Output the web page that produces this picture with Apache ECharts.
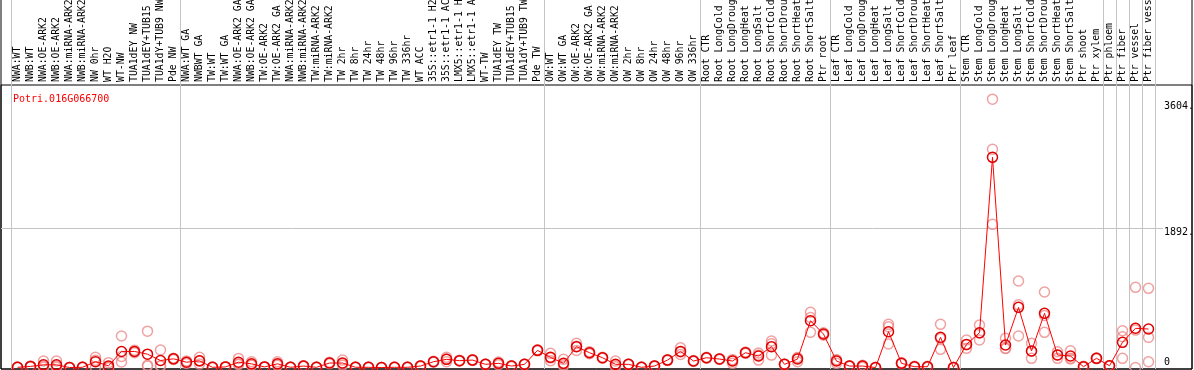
<!DOCTYPE html>
<html>
<head>
<meta charset="utf-8">
<title>Potri.016G066700</title>
<script src="https://cdn.jsdelivr.net/npm/echarts@6/dist/echarts.min.js"></script>
<style>
  html, body { margin: 0; padding: 0; background: #fff; }
  #chart { width: 1194px; height: 370px; }
</style>
</head>
<body>
<div id="chart"></div>
<script>
// gene shown in the plot
const geneId = 'Potri.016G066700';

// sample names (cut to 14 chars, as in the source plot)
const categories = [
  'NWA:WT', 'NWB:WT', 'NWA:OE-ARK2', 'NWB:OE-ARK2', 'NWA:miRNA-ARK2', 'NWB:miRNA-ARK2',
  'NW 0hr', 'WT H2O', 'WT-NW', 'TUA1dEY NW', 'TUA1dEY+TUB15', 'TUA1dY+TUB9 NW', 'Pde NW',
  'NWA:WT GA', 'NWBWT GA', 'TW:WT', 'TW:WT GA', 'NWA:OE-ARK2 GA', 'NWB:OE-ARK2 GA',
  'TW:OE-ARK2', 'TW:OE-ARK2 GA', 'NWA:miRNA-ARK2', 'NWB:miRNA-ARK2', 'TW:miRNA-ARK2',
  'TW:miRNA-ARK2', 'TW 2hr', 'TW 8hr', 'TW 24hr', 'TW 48hr', 'TW 96hr', 'TW 336hr',
  'WT ACC', '35S::etr1-1 H2', '35S::etr1-1 AC', 'LMX5::etr1-1 H', 'LMX5::etr1-1 A',
  'WT-TW', 'TUA1dEY TW', 'TUA1dEY+TUB15', 'TUA1dY+TUB9 TW', 'Pde TW',
  'OW:WT', 'OW:WT GA', 'OW:OE-ARK2', 'OW:OE-ARK2 GA', 'OW:miRNA-ARK2', 'OW:miRNA-ARK2',
  'OW 2hr', 'OW 8hr', 'OW 24hr', 'OW 48hr', 'OW 96hr', 'OW 336hr',
  'Root CTR', 'Root LongCold', 'Root LongDroug', 'Root LongHeat', 'Root LongSalt',
  'Root ShortCold', 'Root ShortDrou', 'Root ShortHeat', 'Root ShortSalt', 'Ptr root',
  'Leaf CTR', 'Leaf LongCold', 'Leaf LongDroug', 'Leaf LongHeat', 'Leaf LongSalt',
  'Leaf ShortCold', 'Leaf ShortDrou', 'Leaf ShortHeat', 'Leaf ShortSalt', 'Ptr leaf',
  'Stem CTR', 'Stem LongCold', 'Stem LongDroug', 'Stem LongHeat', 'Stem LongSalt',
  'Stem ShortCold', 'Stem ShortDrou', 'Stem ShortHeat', 'Stem ShortSalt', 'Ptr shoot',
  'Ptr xylem', 'Ptr phloem', 'Ptr fiber', 'Ptr vessel', 'Ptr fiber vess'
];

// index of the first sample of every group (grey separators)
const groupStarts = [0, 13, 41, 53, 63, 73, 84, 85, 86, 87];

// mean expression per sample
const meanValues = [
  3, 15, 37, 37, 0, 3, 80, 22, 218, 218, 181, 95, 118,
  72, 91, 3, 8, 72, 50, 8, 50, 3, 20, 3, 61, 61, 3, 3, 0, 3, 3, 20, 79, 111, 93, 101, 43, 57, 20, 43, 233,
  138, 57, 283, 201, 133, 43, 43, 3, 20, 101, 219, 88,
  133, 115, 88, 201, 156, 283, 43, 115, 635, 454,
  88, 20, 20, 0, 486, 57, 11, 11, 409, 0,
  314, 472, 2851, 305, 816, 224, 735, 170, 156, 11, 125,
  24, 342, 532, 522
];

// replicates
const rep1 = [
  0, 10, 88, 88, 0, 0, 138, 66, 428, 200, 493, 237, 110,
  90, 138, 0, 5, 124, 79, 5, 79, 0, 15, 0, 70, 101, 0, 0, 0, 0, 0, 15, 85, 140, 88, 95, 40, 75, 15, 40, 240,
  192, 111, 328, 215, 140, 88, 40, 0, 15, 95, 269, 95,
  140, 120, 57, 210, 101, 359, 40, 79, 749, 470,
  57, 15, 5, 0, 586, 50, 5, 5, 586, 0,
  373, 576, 3640, 396, 1173, 328, 1024, 214, 228, 5, 120,
  20, 499, 1088, 1074
];
const rep2 = [
  3, 15, 20, 20, 0, 3, 99, 0, 150, 218, 30, 25, 118,
  72, 88, 3, 8, 50, 40, 8, 40, 3, 20, 3, 61, 50, 3, 3, 0, 3, 3, 20, 79, 114, 93, 101, 43, 57, 20, 43, 233,
  130, 40, 290, 201, 133, 30, 43, 3, 20, 101, 210, 88,
  133, 115, 100, 201, 170, 321, 43, 130, 680, 454,
  100, 20, 25, 0, 553, 57, 11, 11, 394, 0,
  310, 467, 2959, 260, 850, 220, 705, 170, 125, 11, 125,
  24, 418, 508, 409
];
const rep3 = [
  6, 20, 3, 3, 0, 6, 3, 0, 75, 236, 20, 20, 126,
  54, 47, 6, 11, 42, 31, 11, 31, 6, 25, 6, 52, 32, 6, 6, 0, 6, 6, 25, 73, 79, 98, 107, 46, 39, 25, 46, 226,
  92, 20, 231, 187, 126, 11, 46, 6, 25, 107, 178, 81,
  126, 110, 107, 192, 197, 169, 46, 136, 477, 438,
  107, 25, 30, 0, 319, 64, 17, 17, 247, 0,
  260, 373, 1942, 259, 427, 125, 477, 125, 115, 17, 130,
  28, 125, 0, 79
];

// right-hand tick labels
const yTickValues = [0, 1892, 3604];
const yTickText = ['0', '1892.', '3604.'];
const yMin = -20;
const yMax = 4985;

const mono = 'DejaVu Sans Mono';
const chart = echarts.init(document.getElementById('chart'));

const hiddenAxis = i => ({ gridIndex: i, type: 'value', show: false });

const repSeries = [rep1, rep2, rep3].map(d => ({
  type: 'scatter',
  xAxisIndex: 2,
  yAxisIndex: 2,
  data: d,
  symbol: 'circle',
  symbolSize: 10,
  silent: true,
  z: 2,
  itemStyle: { color: 'rgba(255,255,255,0)', borderColor: '#ec8a8a', borderWidth: 1.5 }
}));

chart.setOption({
  animation: false,
  title: {
    text: geneId,
    left: 8,
    top: 89,
    textStyle: { color: '#ff0000', fontSize: 10, fontWeight: 'normal', fontFamily: mono }
  },
  grid: [
    // outer frame (sides + bottom, full height)
    { left: 1, right: 2, top: -5, bottom: 1, show: true, borderColor: '#000', borderWidth: 1, backgroundColor: 'transparent', outerBoundsMode: 'none' },
    // plot box below the label band
    { left: 1, right: 2, top: 85, bottom: 1, show: true, borderColor: '#000', borderWidth: 1, backgroundColor: 'transparent', outerBoundsMode: 'none' },
    // data area
    { left: 11, right: 39, top: 0, bottom: 1, outerBoundsMode: 'none' },
    // y labels + horizontal grid line
    { left: 1, right: 31, top: 0, bottom: 1, outerBoundsMode: 'none' }
  ],
  xAxis: [
    hiddenAxis(0),
    hiddenAxis(1),
    {
      gridIndex: 2,
      type: 'category',
      data: categories,
      position: 'top',
      offset: -85,
      boundaryGap: true,
      axisLine: { show: false },
      axisTick: { show: false },
      axisLabel: {
        interval: 0,
        rotate: 90,
        margin: 3,
        color: '#000',
        fontSize: 9.8,
        fontFamily: mono,
        hideOverlap: false
      },
      splitLine: {
        show: true,
        interval: idx => groupStarts.includes(idx),
        lineStyle: { color: '#c4c4c4', width: 1 }
      }
    },
    hiddenAxis(3)
  ],
  yAxis: [
    hiddenAxis(0),
    hiddenAxis(1),
    { gridIndex: 2, type: 'value', min: yMin, max: yMax, show: false },
    {
      gridIndex: 3,
      type: 'value',
      min: yMin,
      max: yMax,
      position: 'right',
      axisLine: { show: false },
      axisTick: { show: false, customValues: [1892] },
      splitLine: { show: true, lineStyle: { color: '#c4c4c4', width: 1 } },
      axisLabel: {
        customValues: yTickValues,
        margin: 1,
        color: '#000',
        fontSize: 10,
        fontFamily: mono,
        formatter: v => {
          const t = yTickText[yTickValues.indexOf(v)];
          return v === 0 ? '{lo|' + t + '}' : '{hi|' + t + '}';
        },
        rich: {
          hi: { fontSize: 10, fontFamily: mono, color: '#000', padding: [9, 0, 0, 0] },
          lo: { fontSize: 10, fontFamily: mono, color: '#000', padding: [0, 0, 11, 0] }
        }
      }
    }
  ],
  series: repSeries.concat([{
    type: 'line',
    xAxisIndex: 2,
    yAxisIndex: 2,
    data: meanValues,
    symbol: 'circle',
    symbolSize: 10,
    showSymbol: true,
    silent: true,
    z: 3,
    lineStyle: { color: '#ff0000', width: 1 },
    itemStyle: { color: 'rgba(255,255,255,0)', borderColor: '#e00000', borderWidth: 1.5 }
  }])
});

window.addEventListener('resize', () => chart.resize());
</script>
</body>
</html>
